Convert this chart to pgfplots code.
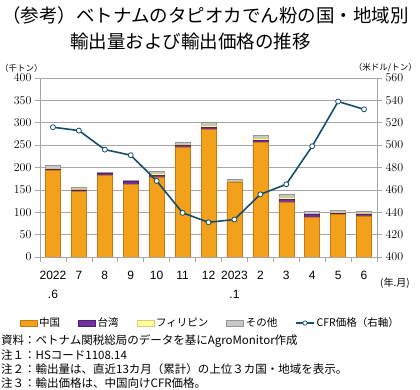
\documentclass[border=0pt]{standalone}
\usepackage{pgfplots}
\pgfplotsset{compat=1.18}
\usepackage{fontspec}
\setmainfont{Liberation Sans}
\newfontfamily\cjk{Noto Sans CJK JP}
\definecolor{cnC}{RGB}{243,160,26}
\definecolor{cnD}{RGB}{200,120,20}
\definecolor{twC}{RGB}{112,48,160}
\definecolor{phC}{RGB}{255,255,160}
\definecolor{phD}{RGB}{215,205,110}
\definecolor{otC}{RGB}{200,200,200}
\definecolor{otD}{RGB}{150,150,150}
\definecolor{lnC}{RGB}{23,78,107}
\definecolor{grC}{RGB}{166,166,166}
\pgfplotstableread{
x cn tw ph ot cfr
0 193 2 3 6 516
1 147 3 2 4 513
2 182 5 0.5 1 496
3 163 6 1 2 491
4 179 3 5 5 468
5 246 4 1 6 439.5
6 285 4 5 6 431
7 166 2 1 5 433.5
8 256 5 4 7 456
9 123 6 4 7 465
10 89 6 1 6 499
11 96 2 2 5 539
12 92 4 1 5 532
}\datatable
\begin{document}
\begin{tikzpicture}
\path[use as bounding box] (0pt,0pt) rectangle (420pt,390pt);
\node[anchor=west,inner sep=0] at (2pt,375pt) {\cjk\fontsize{18.5}{22}\selectfont （参考）};
\node[anchor=west,inner sep=0] at (76pt,375pt) {\cjk\fontsize{18.5}{22}\selectfont ベトナムのタピオカでん粉の国・地域別};
\node[anchor=west,inner sep=0] at (70pt,349pt) {\cjk\fontsize{18.5}{22}\selectfont 輸出量および輸出価格の推移};
\node[anchor=west,inner sep=0] at (0pt,322pt) {\cjk\fontsize{8.5}{10}\selectfont （千トン）};
\node[anchor=east,inner sep=0] at (417pt,322pt) {\cjk\fontsize{8.5}{10}\selectfont （米ドル/トン）};
\node[anchor=west,inner sep=0] at (380pt,107pt) {\cjk\fontsize{10}{12}\selectfont (年.月)};
\begin{axis}[
  at={(40pt,133pt)}, anchor=south west, scale only axis,
  width=337pt, height=179pt,
  xmin=-0.5, xmax=12.5, ymin=0, ymax=400,
  ybar stacked, bar width=15pt,
  ytick={0,50,...,400},
  ymajorgrids, grid style={grC, line width=0.6pt},
  axis line style={grC, line width=0.6pt},
  xtick={0,...,12},
  xticklabels={{2022\\.6},7,8,9,10,11,12,{2023\\.1},2,3,4,5,6},
  minor xtick={-0.5,0.5,...,12.5},
  xtick pos=bottom, ytick pos=left,
  tick align=outside,
  major x tick style={draw=none},
  minor tick length=5pt, major tick length=5pt,
  tick style={grC, line width=0.6pt},
  xticklabel style={font=\fontsize{12}{19}\selectfont, align=center, yshift=-6pt},
  yticklabel style={font=\fontsize{12}{14}\selectfont},
  legend style={at={(axis description cs:0.505,-0.369)}, anchor=center, draw=none,
    font=\cjk\fontsize{10.5}{12}\selectfont, legend columns=5,
    /tikz/every even column/.append style={column sep=16pt}},
  legend cell align=left,
]
\addplot[fill=cnC, draw=cnD, line width=0.5pt, legend image code/.code={\draw[fill=cnC,draw=cnD] (0pt,-3pt) rectangle (17pt,3pt);}] table[x=x,y=cn]{\datatable};
\addlegendentry{中国}
\addplot[fill=twC, draw=twC!70!black, line width=0.5pt, legend image code/.code={\draw[fill=twC,draw=twC!70!black] (0pt,-3pt) rectangle (17pt,3pt);}] table[x=x,y=tw]{\datatable};
\addlegendentry{台湾}
\addplot[fill=phC, draw=phD, line width=0.5pt, legend image code/.code={\draw[fill=phC,draw=phD] (0pt,-3pt) rectangle (17pt,3pt);}] table[x=x,y=ph]{\datatable};
\addlegendentry{フィリピン}
\addplot[fill=otC, draw=otD, line width=0.5pt, legend image code/.code={\draw[fill=otC,draw=otD] (0pt,-3pt) rectangle (17pt,3pt);}] table[x=x,y=ot]{\datatable};
\addlegendentry{その他}
\addlegendimage{legend image code/.code={\draw[lnC,line width=1.2pt] (0pt,0pt)--(18pt,0pt); \draw[lnC,fill=white,line width=0.7pt] (9pt,0pt) circle (2.2pt);}}
\addlegendentry{CFR価格（右軸）}
\end{axis}
\begin{axis}[
  at={(40pt,133pt)}, anchor=south west, scale only axis,
  width=337pt, height=179pt,
  xmin=-0.5, xmax=12.5, ymin=400, ymax=560,
  axis x line=none, axis y line*=right,
  ytick={400,420,...,560},
  tick align=outside, major tick length=5pt,
  tick style={grC, line width=0.6pt},
  axis line style={grC, line width=0.6pt},
  yticklabel style={font=\fontsize{12}{14}\selectfont},
]
\addplot[lnC, line width=1.6pt, mark=*, mark size=2.5pt, mark options={fill=white, draw=lnC, line width=0.8pt}] table[x=x,y=cfr]{\datatable};
\end{axis}
\node[anchor=west,inner sep=0] at (1pt,49pt) {\cjk\fontsize{11.5}{13}\selectfont 資料：ベトナム関税総局のデータを基にAgroMonitor作成};
\node[anchor=west,inner sep=0] at (1pt,35pt) {\cjk\fontsize{11.5}{13}\selectfont 注１：HSコード1108.14};
\node[anchor=west,inner sep=0] at (1pt,21pt) {\cjk\fontsize{11.5}{13}\selectfont 注２：輸出量は、直近13カ月（累計）の上位３カ国・地域を表示。};
\node[anchor=west,inner sep=0] at (1pt,7pt) {\cjk\fontsize{11.5}{13}\selectfont 注３：輸出価格は、中国向けCFR価格。};
\end{tikzpicture}
\end{document}
